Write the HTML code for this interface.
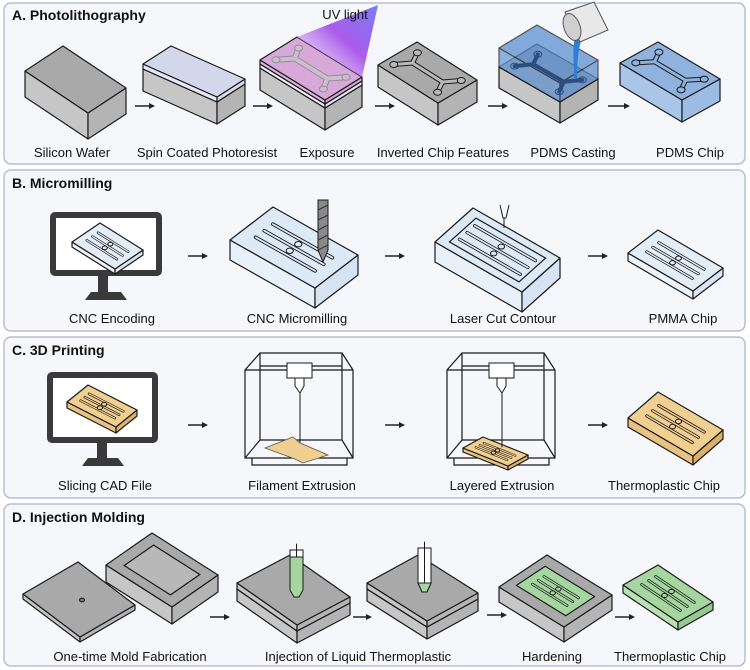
<!DOCTYPE html>
<html><head><meta charset="utf-8"><style>
html,body{margin:0;padding:0;background:#fff;}
svg{display:block}
text{font-family:"Liberation Sans",sans-serif;fill:#111}
.t{font-size:13px;text-anchor:middle}
.h{font-size:14px;font-weight:bold}
</style></head><body>
<svg id="s" width="750" height="670" viewBox="0 0 750 670" xmlns="http://www.w3.org/2000/svg">
<defs>
<linearGradient id="uv" x1="0" y1="1" x2="1" y2="0">
<stop offset="0" stop-color="#f4e8fb" stop-opacity="0.6"/><stop offset="0.55" stop-color="#a24be8"/><stop offset="1" stop-color="#6b6ff5"/>
</linearGradient>
</defs>
<rect x="4" y="3" width="741" height="161" rx="7" fill="#f6f7fa" stroke="#b7bfd6" stroke-width="1.5"/>
<rect x="4" y="170" width="741" height="161" rx="7" fill="#f6f7fa" stroke="#b7bfd6" stroke-width="1.5"/>
<rect x="4" y="337" width="741" height="161" rx="7" fill="#f6f7fa" stroke="#b7bfd6" stroke-width="1.5"/>
<rect x="4" y="504" width="741" height="162" rx="7" fill="#f6f7fa" stroke="#b7bfd6" stroke-width="1.5"/>
<g id="g"></g>
<text class="h" x="12" y="20">A. Photolithography</text>
<text class="h" x="12" y="188">B. Micromilling</text>
<text class="h" x="12" y="355">C. 3D Printing</text>
<text class="h" x="12" y="522">D. Injection Molding</text>
<text class="t" x="345" y="19">UV light</text>
<text class="t" x="72" y="157">Silicon Wafer</text>
<text class="t" x="207" y="157">Spin Coated Photoresist</text>
<text class="t" x="327" y="157">Exposure</text>
<text class="t" x="443" y="157">Inverted Chip Features</text>
<text class="t" x="573" y="157">PDMS Casting</text>
<text class="t" x="690" y="157">PDMS Chip</text>
<text class="t" x="112" y="323">CNC Encoding</text>
<text class="t" x="297" y="323">CNC Micromilling</text>
<text class="t" x="503" y="323">Laser Cut Contour</text>
<text class="t" x="683" y="323">PMMA Chip</text>
<text class="t" x="105" y="490">Slicing CAD File</text>
<text class="t" x="302" y="490">Filament Extrusion</text>
<text class="t" x="502" y="490">Layered Extrusion</text>
<text class="t" x="664" y="490">Thermoplastic Chip</text>
<text class="t" x="130" y="661">One-time Mold Fabrication</text>
<text class="t" x="358" y="661">Injection of Liquid Thermoplastic</text>
<text class="t" x="552" y="661">Hardening</text>
<text class="t" x="670" y="661">Thermoplastic Chip</text>
</svg>
<script>
var G=document.getElementById('g'),out='';
function p(a){return a[0].toFixed(1)+','+a[1].toFixed(1)}
function poly(pts,fill,sw){out+='<polygon points="'+pts.map(p).join(' ')+'" fill="'+fill+'" stroke="#1a1a1a" stroke-width="'+(sw||1.2)+'" stroke-linejoin="round"/>';}
function dn(a,d){return [a[0],a[1]+d]}
function blk(L,T,R,d,ct,cl,cr){var F=[L[0]+R[0]-T[0],L[1]+R[1]-T[1]];
poly([L,F,dn(F,d),dn(L,d)],cl);poly([F,R,dn(R,d),dn(F,d)],cr);poly([L,T,R,F],ct);}
function P(L,T,R,s,t){return [L[0]+s*(T[0]-L[0])+t*(R[0]-T[0]),L[1]+s*(T[1]-L[1])+t*(R[1]-T[1])]}
function line(a,b,c,w){out+='<line x1="'+a[0]+'" y1="'+a[1]+'" x2="'+b[0]+'" y2="'+b[1]+'" stroke="'+c+'" stroke-width="'+w+'" stroke-linecap="round"/>';}
function circ(c,r,f,st){out+='<ellipse cx="'+c[0]+'" cy="'+c[1]+'" rx="'+r+'" ry="'+(r*0.75)+'" fill="'+f+'" stroke="'+(st||'#1a1a1a')+'" stroke-width="1"/>';}
function arrow(x1,x2,y){out+='<line x1="'+x1+'" y1="'+y+'" x2="'+(x2-4)+'" y2="'+y+'" stroke="#222" stroke-width="1.5"/><polygon points="'+x2+','+y+' '+(x2-6)+','+(y-3)+' '+(x2-6)+','+(y+3)+'" fill="#222"/>';}
function feat(L,T,R,inner,sc){sc=sc||1;[0.3,0.5,0.7].forEach(function(s){var a=P(L,T,R,s,0.15),b=P(L,T,R,s,0.85);line(a,b,'#1a1a1a',3.6*sc);line(a,b,inner,1.8*sc);});
[0.4,0.6].forEach(function(s){circ(P(L,T,R,s,0.5),3.6*sc,inner);});}
function ych(L,T,R,col,wid,outl){var pts=[[0.5,0.25],[0.5,0.75]];var br=[[[0.5,0.25],[0.22,0.12]],[[0.5,0.25],[0.78,0.15]],[[0.5,0.75],[0.22,0.85]],[[0.5,0.75],[0.78,0.88]]];
var segs=[[pts[0],pts[1]]].concat(br);
segs.forEach(function(sg){var a=P(L,T,R,sg[0][0],sg[0][1]),b=P(L,T,R,sg[1][0],sg[1][1]);if(outl)line(a,b,outl,wid+2);});
segs.forEach(function(sg){var a=P(L,T,R,sg[0][0],sg[0][1]),b=P(L,T,R,sg[1][0],sg[1][1]);line(a,b,col,wid);});
[[0.22,0.12],[0.78,0.15],[0.22,0.85],[0.78,0.88]].forEach(function(q){circ(P(L,T,R,q[0],q[1]),4,col,outl||col);});}
var GT='#a9a9a9',GL='#c6c6c6',GR='#b4b4b4';
// A
blk([25,71],[63,46],[126,88],26,GT,GL,GR);
blk([143,69],[171,51],[245,84],22,GT,GL,GR);blk([143,64],[171,46],[245,79],5,'#d2d7ec','#e4e7f5','#d8dcef');
blk([260,68],[297,45],[362,85],22,GT,GL,GR);blk([260,64],[297,41],[362,81],4,'#eceef8','#f0f1f8','#e6e8f4');blk([260,60],[297,37],[362,77],4,'#d7a9d8','#dcb4dc','#d2a5d4');
ych([260,60],[297,37],[362,77],'#cbbfcc',4,'#9a8a9c');
out+='<polygon points="297,37 362,77 378,5" fill="url(#uv)" opacity="0.9"/>';
blk([378,65],[417,42],[477,80],22,GT,GL,GR);ych([378,65],[417,42],[477,80],'#b9b9b9',3,'#1a1a1a');
blk([499,67],[537,44],[598,79],21,GT,GL,GR);
out+='<g opacity="0.75">';blk([499,48],[537,25],[598,60],19,'#5b8fd0','#6b9bd6','#5f90cf');out+='</g>';
ych([499,67],[537,44],[598,79],'none',2,'#2b4e80');
out+='<path d="M577,30 q-5,10 -3,40 l0,8 l3,0 q0,-30 6,-42 z" fill="#2f7fd8"/>';
out+='<polygon points="565,12 594,2 608,30 580,42" fill="#e8e8e8" stroke="#555" stroke-width="1"/><ellipse cx="572" cy="27" rx="8" ry="14" transform="rotate(-20 572 27)" fill="#cfcfcf" stroke="#555"/>';
blk([620,63],[658,42],[720,79],22,'#8fb2de','#a9c5e8','#9dbce3');ych([620,63],[658,42],[720,79],'#8fb2de',3,'#1a1a1a');
arrow(135,155,106);arrow(253,273,106);arrow(375,395,106);arrow(488,508,106);arrow(608,630,106);
// monitor fn
function mon(x,y,w,h,nx,ny,bx){out+='<rect x="'+x+'" y="'+y+'" width="'+w+'" height="'+h+'" rx="2" fill="#fff" stroke="#3a3a3a" stroke-width="6"/>';
out+='<rect x="'+nx+'" y="'+(y+h+3)+'" width="10" height="'+(ny-(y+h+3))+'" fill="#3a3a3a"/><polygon points="'+(bx+6)+','+ny+' '+(bx+36)+','+ny+' '+(bx+42)+','+(ny+8)+' '+bx+','+(ny+8)+'" fill="#3a3a3a"/>';}
// B
mon(53,215,106,58,98,292,85);
blk([72,242],[100,223],[143,250],5,'#e3edf8','#eef4fb','#d8e5f4');feat([72,242],[100,223],[143,250],'#e3edf8',0.7);
blk([230,240],[273,207],[358,255],20,'#dce9f6','#e8f0fa','#d5e3f3');feat([230,240],[273,207],[358,255],'#dce9f6');
out+='<polygon points="318,200 328,200 328,250 323,262 318,250" fill="#8a8a8a" stroke="#1a1a1a"/><path d="M318,210 l10,-5 M318,220 l10,-5 M318,230 l10,-5 M318,240 l10,-5 M318,250 l10,-5" stroke="#333"/>';
blk([435,242],[473,208],[560,258],20,'#dce9f6','#e8f0fa','#d5e3f3');
var L3=[435,242],T3=[473,208],R3=[560,258];
out+='<polygon points="'+[P(L3,T3,R3,0.15,0.1),P(L3,T3,R3,0.85,0.1),P(L3,T3,R3,0.85,0.9),P(L3,T3,R3,0.15,0.9)].map(p).join(' ')+'" fill="none" stroke="#1a1a1a" stroke-width="1.2"/>';
feat(L3,T3,R3,'#dce9f6',0.9);
out+='<path d="M500,205 l3,13 l3,0 l3,-13 M504,218 l0,10" stroke="#1a1a1a" fill="none"/>';
blk([628,253],[658,230],[723,268],8,'#e3edf8','#eef4fb','#d8e5f4');feat([628,253],[658,230],[723,268],'#e3edf8',0.8);
arrow(188,208,256);arrow(385,405,256);arrow(588,608,256);
// C
mon(50,375,105,65,97,458,82);
var OT='#f1cf91',OL='#e9c181',OR='#dbb06c';
blk([67,402],[88,385],[137,410],6,OT,OL,OR);feat([67,402],[88,385],[137,410],OT,0.7);
function printer(dx,layered){var o=function(x){return x+dx};
out+='<g fill="none" stroke="#1a1a1a" stroke-width="1.2"><path d="M'+o(260)+',353 L'+o(342)+',353 L'+o(353)+',370 L'+o(353)+',458 L'+o(245)+',458 L'+o(245)+',370 Z M'+o(245)+',370 L'+o(353)+',370 M'+o(260)+',353 L'+o(260)+',440 L'+o(342)+',440 L'+o(342)+',353 M'+o(260)+',440 L'+o(245)+',458 M'+o(342)+',440 L'+o(353)+',458 M'+o(252)+',458 L'+o(252)+',465 L'+o(347)+',465 L'+o(347)+',458 M'+o(260)+',366 L'+o(342)+',366"/></g>';
out+='<rect x="'+o(287)+'" y="363" width="25" height="15" fill="#fff" stroke="#1a1a1a"/><polygon points="'+o(295)+',378 '+o(304)+',378 '+o(304)+',386 '+o(300)+',393 '+o(295)+',386" fill="#fff" stroke="#1a1a1a"/>';
line([o(300),393],[o(300),445],'#1a1a1a',1);}
printer(0);
out+='<polygon points="265,448 293,437 300,443 328,455 303,463 295,459" fill="#f1cf91" stroke="#555" stroke-width="0.8"/>';
printer(202);
blk([463,448],[483,437],[528,455],4,OT,OL,OR);feat([463,448],[483,437],[528,455],OT,0.6);line([502,393],[502,447],'#1a1a1a',1);
blk([628,418],[658,392],[723,430],9,OT,OL,OR);feat([628,418],[658,392],[723,430],OT,0.85);
arrow(188,208,425);arrow(385,405,425);arrow(588,608,425);
// D
blk([23,594],[78,562],[135,605],5,'#a9a9a9','#c6c6c6','#b4b4b4');circ([82,600],2.5,'#777');
var L4=[106,565],T4=[152,533],R4=[218,575];blk(L4,T4,R4,17,GT,GL,GR);
out+='<polygon points="'+[P(L4,T4,R4,0.18,0.15),P(L4,T4,R4,0.82,0.15),P(L4,T4,R4,0.82,0.85),P(L4,T4,R4,0.18,0.85)].map(p).join(' ')+'" fill="#b8b8b8" stroke="#1a1a1a" stroke-width="1.2"/>';
function inj(L,T,R,nx,tipCol,full){blk(dn(L,6),dn(T,6),dn(R,6),12,GT,GL,GR);blk(L,T,R,6,GT,GL,GR);
if(full){out+='<rect x="'+nx+'" y="550" width="13" height="7" fill="#fff" stroke="#1a1a1a"/><polygon points="'+nx+',557 '+(nx+13)+',557 '+(nx+13)+',590 '+(nx+9)+',597 '+(nx+4)+',597 '+nx+',590" fill="#a6d6a0" stroke="#1a1a1a"/>';line([nx+6.5,544],[nx+6.5,557],'#1a1a1a',1);}
else{out+='<polygon points="'+nx+',548 '+(nx+13)+',548 '+(nx+13)+',583 '+(nx+9)+',592 '+(nx+4)+',592 '+nx+',583" fill="#fff" stroke="#1a1a1a"/><polygon points="'+nx+',583 '+(nx+13)+',583 '+(nx+9)+',592 '+(nx+4)+',592" fill="#a6d6a0" stroke="#1a1a1a"/>';line([nx+6.5,542],[nx+6.5,583],'#1a1a1a',1);}}
inj([237,583],[290,555],[350,597],290,'',true);
inj([367,583],[418,555],[478,593],418,'',false);
var L5=[499,587],T5=[547,555],R5=[612,595];blk(L5,T5,R5,15,GT,GL,GR);
var gL=P(L5,T5,R5,0.2,0.12),gT=P(L5,T5,R5,0.8,0.12),gR=P(L5,T5,R5,0.8,0.88);
poly([gL,gT,gR,P(L5,T5,R5,0.2,0.88)],'#a6d6a0');feat(gL,gT,gR,'#a6d6a0',0.75);
blk([623,585],[658,565],[713,602],8,'#a6d6a0','#b9e0b3','#96c990');feat([623,585],[658,565],[713,602],'#a6d6a0',0.8);
arrow(210,230,617);arrow(353,372,617);arrow(487,507,615);arrow(615,635,617);
G.innerHTML=out;
</script>
</body></html>
